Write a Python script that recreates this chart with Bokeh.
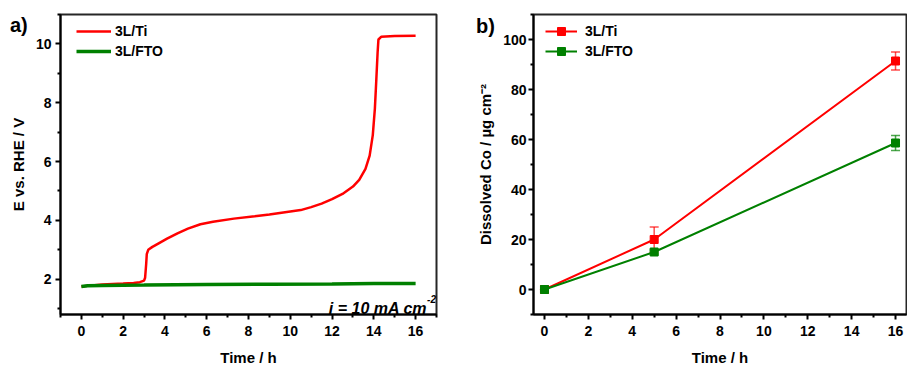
from bokeh.plotting import figure
from bokeh.models import (Range1d, FixedTicker, Label, Legend, LegendItem,
                          ColumnDataSource, Whisker, TeeHead, Div)
from bokeh.layouts import row
from bokeh.embed import file_html
from bokeh.resources import INLINE

# ---------------- data ----------------
# panel a) chronopotentiometry
t_ti = [0, 0.5, 1, 1.5, 2, 2.5, 2.8, 3.0, 3.05, 3.1, 3.13, 3.2, 3.4, 3.7, 4.1,
        4.6, 5.1, 5.7, 6.3, 7.3, 8.3, 9.0, 10.0, 10.5, 11.0, 11.5, 12.0, 12.5,
        13.0, 13.3, 13.6, 13.8, 13.95, 14.05, 14.12, 14.18, 14.22, 14.35, 15.0, 16.0]
e_ti = [1.75, 1.79, 1.82, 1.84, 1.85, 1.87, 1.9, 1.95, 2.05, 2.5, 2.85, 3.0, 3.1,
        3.22, 3.38, 3.56, 3.72, 3.87, 3.95, 4.06, 4.14, 4.2, 4.3, 4.35, 4.45, 4.57,
        4.72, 4.9, 5.15, 5.38, 5.75, 6.2, 6.9, 7.8, 8.8, 9.7, 10.15, 10.24, 10.27, 10.28]
t_fto = [0, 0.3, 1, 3, 6, 9, 12, 14, 16]
e_fto = [1.75, 1.78, 1.79, 1.80, 1.82, 1.83, 1.84, 1.85, 1.85]

# panel b) dissolved Co
time_b = [0, 5, 16]
co_ti = [0, 20, 91.4]
co_ti_err = [0, 5, 3.6]
co_fto = [0, 15, 58.6]
co_fto_err = [0, 0.8, 3.0]

a_xticks = [0, 2, 4, 6, 8, 10, 12, 14, 16]
a_yticks = [2, 4, 6, 8, 10]
b_xticks = [0, 2, 4, 6, 8, 10, 12, 14, 16]
b_yticks = [0, 20, 40, 60, 80, 100]

RED = "#FF0000"
GREEN = "#008000"
FONT = "Liberation Sans"


def style(p):
    p.outline_line_color = "black"
    p.outline_line_width = 2
    p.outline_line_alpha = 0.85
    p.xgrid.visible = False
    p.ygrid.visible = False
    p.background_fill_color = "white"
    p.border_fill_color = "white"
    for ax in (p.xaxis[0], p.yaxis[0]):
        ax.axis_line_width = 2
        ax.axis_line_color = "black"
        ax.major_tick_line_width = 2
        ax.minor_tick_line_width = 2
        ax.major_tick_out = 5
        ax.major_tick_in = 0
        ax.minor_tick_out = 3
        ax.minor_tick_in = 0
        ax.major_label_text_font = FONT
        ax.major_label_text_font_style = "bold"
        ax.major_label_text_font_size = "14px"
        ax.major_label_text_color = "black"
        ax.axis_label_text_font = FONT
        ax.axis_label_text_font_style = "bold"
        ax.axis_label_text_font_size = "15px"
        ax.axis_label_text_color = "black"
    p.xaxis[0].major_label_standoff = 6
    p.xaxis[0].axis_label_standoff = 10
    p.yaxis[0].major_label_standoff = 4
    p.yaxis[0].axis_label_standoff = 6


# ---------------- panel a ----------------
pa = figure(width=448, height=368, output_backend="svg", toolbar_location=None,
            x_range=Range1d(-1, 17), y_range=Range1d(0.8, 11),
            min_border_left=60, min_border_right=12, min_border_top=14,
            min_border_bottom=52)
style(pa)
pa.xaxis[0].ticker = FixedTicker(ticks=a_xticks, minor_ticks=list(range(-1, 18, 2)))
pa.yaxis[0].ticker = FixedTicker(ticks=a_yticks, minor_ticks=[1, 3, 5, 7, 9, 11])
pa.xaxis[0].axis_label = "Time / h"
pa.yaxis[0].axis_label = "E vs. RHE / V"

r_ti = pa.line(t_ti, e_ti, line_color=RED, line_width=2.5)
r_fto = pa.line(t_fto, e_fto, line_color=GREEN, line_width=3.5)

leg_a = Legend(items=[LegendItem(label="3L/Ti", renderers=[r_ti]),
                      LegendItem(label="3L/FTO", renderers=[r_fto])],
               location=(16, 253), glyph_width=35, glyph_height=20,
               label_standoff=4, spacing=0, padding=2, margin=0,
               border_line_color=None, background_fill_alpha=0,
               label_text_font=FONT, label_text_font_style="bold",
               label_text_font_size="14px", label_height=20,
               label_text_color="black")
pa.add_layout(leg_a)

pa.add_layout(Label(x=16.55, y=1.02, text="j = 10 mA cm", text_font=FONT,
                    text_font_style="bold italic", text_font_size="16px",
                    text_color="black",
                    text_align="right", text_baseline="alphabetic"))
pa.add_layout(Label(x=16.55, y=1.33, text="-2", text_font=FONT,
                    text_font_style="bold italic", text_font_size="10px",
                    text_color="black",
                    text_align="left", text_baseline="alphabetic"))

# ---------------- panel b ----------------
pb = figure(width=459, height=368, output_backend="svg", toolbar_location=None,
            x_range=Range1d(-0.5, 16.5), y_range=Range1d(-10, 110),
            min_border_left=85, min_border_right=1, min_border_top=14,
            min_border_bottom=52)
style(pb)
pb.xaxis[0].ticker = FixedTicker(ticks=b_xticks, minor_ticks=list(range(1, 16, 2)))
pb.yaxis[0].ticker = FixedTicker(ticks=b_yticks, minor_ticks=list(range(-10, 111, 20)))
pb.xaxis[0].axis_label = "Time / h"
pb.yaxis[0].axis_label = "Dissolved Co / µg cm⁻²"
pb.yaxis[0].major_label_standoff = 2

src_ti = ColumnDataSource(dict(x=time_b, y=co_ti,
                               up=[v + e for v, e in zip(co_ti, co_ti_err)],
                               lo=[v - e for v, e in zip(co_ti, co_ti_err)]))
src_fto = ColumnDataSource(dict(x=time_b, y=co_fto,
                                up=[v + e for v, e in zip(co_fto, co_fto_err)],
                                lo=[v - e for v, e in zip(co_fto, co_fto_err)]))

for src, col in ((src_ti, RED), (src_fto, GREEN)):
    pb.add_layout(Whisker(source=src, base="x", upper="up", lower="lo",
                          line_color=col, line_width=1.5, line_alpha=0.7,
                          upper_head=TeeHead(size=9, line_color=col, line_width=1.5, line_alpha=0.7),
                          lower_head=TeeHead(size=9, line_color=col, line_width=1.5, line_alpha=0.7)))

lb_ti = pb.line("x", "y", source=src_ti, line_color=RED, line_width=2)
sb_ti = pb.scatter("x", "y", source=src_ti, marker="square", size=8,
                   fill_color=RED, line_color=RED)
lb_fto = pb.line("x", "y", source=src_fto, line_color=GREEN, line_width=2)
sb_fto = pb.scatter("x", "y", source=src_fto, marker="square", size=8,
                    fill_color=GREEN, line_color=GREEN)

leg_b = Legend(items=[LegendItem(label="3L/Ti", renderers=[lb_ti, sb_ti]),
                      LegendItem(label="3L/FTO", renderers=[lb_fto, sb_fto])],
               location=(12, 253), glyph_width=32, glyph_height=20,
               label_standoff=8, spacing=0, padding=2, margin=0,
               border_line_color=None, background_fill_alpha=0,
               label_text_font=FONT, label_text_font_style="bold",
               label_text_font_size="14px", label_height=20,
               label_text_color="black")
pb.add_layout(leg_b)

# panel letters (outside the plot frames)
letter_style = {"position": "absolute", "font-family": FONT, "font-weight": "bold",
                "font-size": "20px", "line-height": "1", "color": "black",
                "z-index": "10"}
div_a = Div(text="a)", margin=0, styles=dict(letter_style, left="10px", top="15px"))
div_b = Div(text="b)", margin=0, styles=dict(letter_style, left="476px", top="16px"))

layout = row(pa, pb, div_a, div_b)
open("out.html", "w").write(file_html(layout, INLINE))
